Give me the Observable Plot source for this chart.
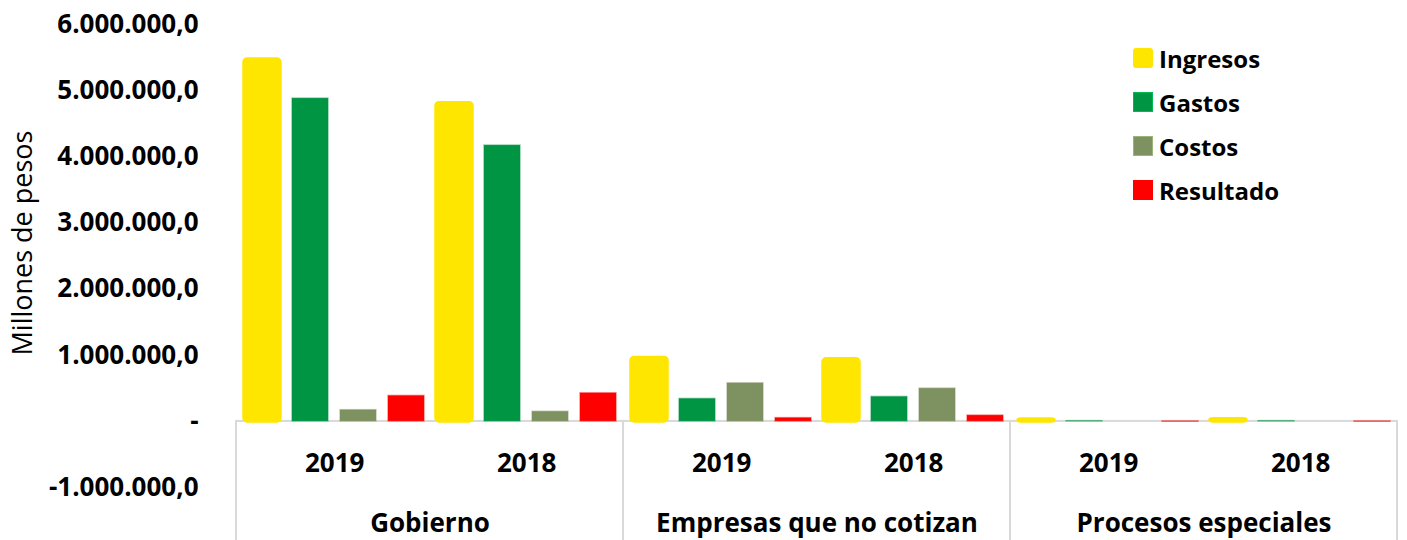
<!DOCTYPE html>
<html>
<head>
<meta charset="utf-8">
<script src="https://cdn.jsdelivr.net/npm/d3@7"></script>
<script src="https://cdn.jsdelivr.net/npm/@observablehq/plot@0.6"></script>
<style>
  body { margin: 0; background: #fff; font-family: "Open Sans", "Liberation Sans", sans-serif; }
  #wrap { position: relative; width: 1407px; height: 540px; overflow: hidden; }
  #legend { position: absolute; left: 1133px; top: 36px; }
  .item { display: flex; align-items: center; height: 44px; font-weight: 700; font-size: 24px; color: #000; }
  .sw { width: 20px; height: 20px; margin-right: 6px; box-sizing: border-box; }
</style>
</head>
<body>
<div id="wrap"><div id="legend"></div></div>
<script>
// ---- data ----
const groups = ["Gobierno", "Empresas que no cotizan", "Procesos especiales"];
const years = ["2019", "2018"];
const series = ["Ingresos", "Gastos", "Costos", "Resultado"];
const colors = ["#FFE600", "#009543", "#7E9160", "#FF0000"];
// values in order: Gobierno 2019, Gobierno 2018, Empresas 2019, Empresas 2018, Procesos 2019, Procesos 2018
const ingresos  = [5470000, 4810000, 960000, 940000, 30000, 32000];
const gastos    = [4880000, 4170000, 340000, 370000, 4000, 4000];
const costos    = [170000, 146000, 576000, 496000, 0, 0];
const resultado = [385000, 425000, 50000, 88000, -4000, -4000];
const yTicks = [-1000000, 0, 1000000, 2000000, 3000000, 4000000, 5000000, 6000000];
const yAxisTitle = "Millones de pesos";

// ---- table ----
const seriesValues = [ingresos, gastos, costos, resultado];
const rows = [];
groups.forEach((g, gi) => years.forEach((yr, yi) => series.forEach((s, si) => {
  rows.push({group: g, year: yr, series: s, key: yr + " " + s, value: seriesValues[si][gi * years.length + yi]});
})));
const xKeys = years.flatMap(yr => series.map(s => yr + " " + s));
const yearRows = groups.flatMap(g => years.map(yr => ({group: g, year: yr})));

// ---- layout ----
const W = 1407, H = 540, mL = 235, mR = 9, mT = 24, mB = 0;
const yMin = -1800000, yMax = 6000000;
const stepX = (W - mL - mR) / groups.length / xKeys.length;
const FONT = "'Open Sans', 'Liberation Sans', sans-serif";

const fmt = d3.formatLocale({decimal: ",", thousands: ".", grouping: [3], currency: ["$", ""], minus: "-"}).format(",.1f");

const plot = Plot.plot({
  width: W, height: H,
  marginLeft: mL, marginRight: mR, marginTop: mT, marginBottom: mB,
  style: {fontFamily: FONT, fontSize: "26px", color: "#000", background: "#fff", overflow: "visible"},
  fx: {domain: groups, padding: 0, axis: null},
  x: {domain: xKeys, paddingInner: 0.26, paddingOuter: 0.13, axis: null},
  y: {domain: [yMin, yMax], axis: null},
  color: {domain: series, range: colors},
  marks: [
    Plot.rect(groups, {fx: d => d, y1: 0, y2: yMin, fill: "none", stroke: "#d9d9d9", strokeWidth: 2, insetBottom: -6}),
    Plot.axisY({ticks: yTicks, tickFormat: d => d === 0 ? "-" : fmt(d), tickSize: 0, tickPadding: 38, fontWeight: "bold", fontSize: 26, label: null}),
    Plot.barY(rows.filter(d => d.series !== "Ingresos"), {fx: "group", x: "key", y: "value", fill: "series", stroke: "series", strokeOpacity: 0.45, strokeWidth: 1.5}),
    Plot.barY(rows.filter(d => d.series === "Ingresos"), {fx: "group", x: "key", y: "value", fill: "series", stroke: "series", strokeWidth: 3.5, strokeLinejoin: "round", rx: 3}),
    Plot.text(yearRows, {fx: "group", x: d => d.year + " " + series[1], text: "year", frameAnchor: "bottom", dy: -69, dx: stepX / 2, fontWeight: "bold", fontSize: 26}),
    Plot.text(groups, {fx: d => d, text: d => d, frameAnchor: "bottom", dy: -9, fontWeight: "bold", fontSize: 26})
  ]
});

d3.select(plot).append("text")
  .attr("transform", "translate(25,243) rotate(-90)")
  .attr("text-anchor", "middle")
  .attr("dominant-baseline", "middle")
  .attr("font-size", 27)
  .attr("font-family", FONT)
  .attr("fill", "#000")
  .text(yAxisTitle);

const wrap = document.getElementById("wrap");
wrap.insertBefore(plot, wrap.firstChild);
plot.style.position = "absolute";
plot.style.left = "0";
plot.style.top = "0";

const legend = d3.select("#legend");
series.forEach((s, i) => {
  const it = legend.append("div").attr("class", "item");
  it.append("div").attr("class", "sw")
    .style("background", colors[i])
    .style("border-radius", i === 0 ? "3px" : "0")
    .style("border", i === 0 ? "none" : "1px solid " + d3.color(colors[i]).brighter(0.6));
  it.append("span").text(s);
});
</script>
</body>
</html>
